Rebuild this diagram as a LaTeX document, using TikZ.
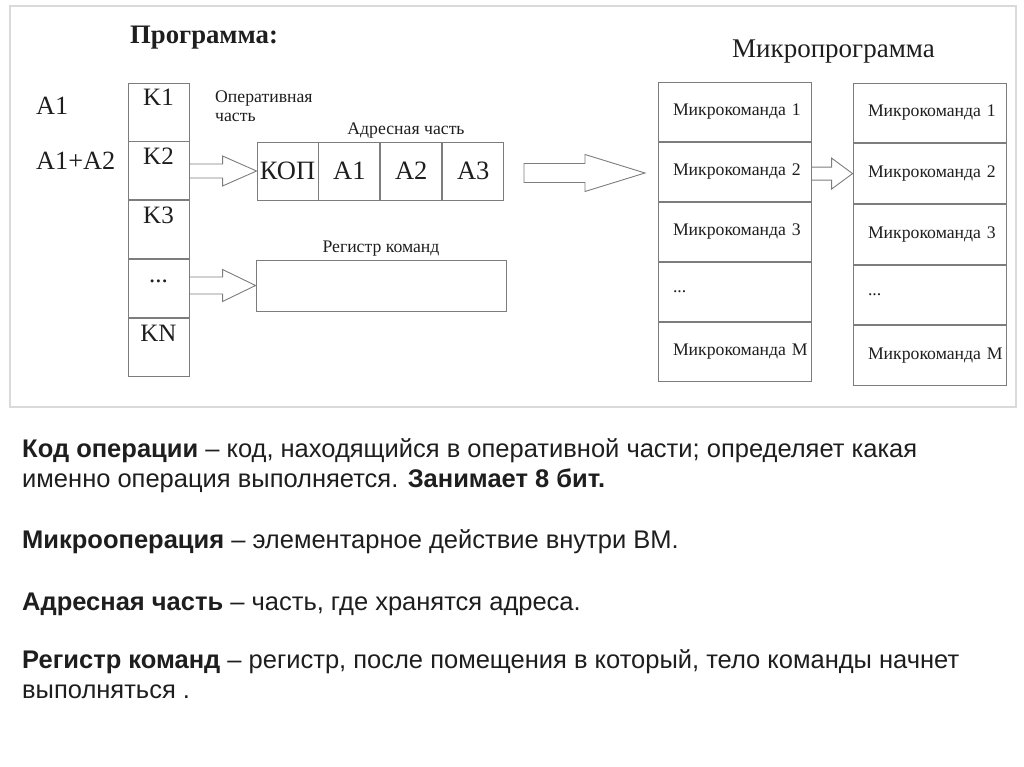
\documentclass[tikz,border=0pt]{standalone}
\usepackage{fontspec}
\setmainfont{Liberation Serif}
\setsansfont{Liberation Sans}
\usetikzlibrary{positioning,calc}
\definecolor{linegray}{RGB}{125,125,125}
\definecolor{framegray}{RGB}{218,218,218}
\definecolor{ink}{RGB}{30,30,30}
% hollow block arrow: tail, tip, shaft half width, head half width, head length, closing
\newcommand{\fatarrow}[6]{%
  \coordinate (fa-tail) at (#1 |- #2);
  \draw[blockarrow] ($(fa-tail)+(0,-#3)$) -- ($(#2)+(-#5,-#3)$) -- ($(#2)+(-#5,-#4)$)
    -- (#2) -- ($(#2)+(-#5,#4)$) -- ($(#2)+(-#5,#3)$) -- ($(fa-tail)+(0,#3)$) #6;}

\begin{document}
\begin{tikzpicture}[x=1pt,y=-1pt,text=ink,
  kcell/.style={draw=linegray,line width=0.9pt,minimum width=61pt,inner sep=0pt,
    text height=23pt,text depth=35pt,font=\fontsize{25}{25}\selectfont},
  regcell/.style={draw=linegray,line width=0.9pt,minimum width=61pt,minimum height=58pt,
    inner sep=0pt,font=\fontsize{26.5}{26.5}\selectfont},
  mcell/.style={draw=linegray,line width=0.9pt,minimum width=153pt,minimum height=#1,
    inner xsep=15pt,inner ysep=0pt,text width=123pt,align=left,
    font=\fontsize{17.7}{17.7}\selectfont},
  note/.style={inner sep=0pt,font=\fontsize{17.7}{19}\selectfont},
  body/.style={anchor=base west,inner sep=0pt,font=\sffamily\fontsize{25.5}{25.5}\selectfont},
  blockarrow/.style={draw=linegray,line width=0.9pt,line join=miter}]
\useasboundingbox (0,0) rectangle (1024,767);
\draw[framegray,line width=1.5pt] (10,6) rectangle (1016,407);

% program column
\node[anchor=base west,inner sep=0pt,font=\bfseries\fontsize{26.7}{26.7}\selectfont] (progtitle) at (130,44) {Программа:};
\node[anchor=base west,inner sep=0pt,font=\fontsize{26.3}{26.3}\selectfont] (opa) at (36,115) {A1};
\node[anchor=base west,inner sep=0pt,font=\fontsize{26.3}{26.3}\selectfont] (opab) at (36,170) {A1+A2};
\node[kcell] (k1) at (158.5,112) {K1};
\node[kcell,below=0pt of k1] (k2) {K2};
\node[kcell,below=0pt of k2] (k3) {K3};
\node[kcell,below=0pt of k3] (kdots) {...};
\node[kcell,below=0pt of kdots] (kn) {KN};

% command format
\node[note,anchor=base west,align=left] (opnote) at (215,122) {Оперативная\\часть};
\node[note,anchor=base] (adrnote) at (406,135) {Адресная часть};
\node[regcell] (kop) at (287.5,171) {КОП};
\node[regcell,right=0pt of kop] (a1) {A1};
\node[regcell,right=0pt of a1] (a2) {A2};
\node[regcell,right=0pt of a2] (a3) {A3};
\node[note,anchor=base] (regnote) at (381,252) {Регистр команд};
\node[draw=linegray,line width=0.9pt,minimum width=250pt,minimum height=51pt,inner sep=0pt] (reg) at (381,285.5) {};

% microprogram
\node[anchor=base west,inner sep=0pt,font=\fontsize{27}{27}\selectfont] (mtitle) at (732,58) {Микропрограмма};
\node[mcell=59.2pt] (m11) at (734.5,111.6) {Микрокоманда~1};
\node[mcell=59.2pt,below=0pt of m11] (m12) {Микрокоманда~2};
\node[mcell=59.2pt,below=0pt of m12] (m13) {Микрокоманда~3};
\node[mcell=59.2pt,below=0pt of m13] (m14) {...};
\node[mcell=59.2pt,below=0pt of m14] (m15) {Микрокоманда~M};
\node[mcell=59.8pt] (m21) at (929.5,112.9) {Микрокоманда~1};
\node[mcell=59.8pt,below=0pt of m21] (m22) {Микрокоманда~2};
\node[mcell=59.8pt,below=0pt of m22] (m23) {Микрокоманда~3};
\node[mcell=59.8pt,below=0pt of m23] (m24) {...};
\node[mcell=59.8pt,below=0pt of m24] (m25) {Микрокоманда~M};

% arrows
\fatarrow{k2.east}{kop.west}{7}{15}{34}{}
\fatarrow{kdots.east}{reg.west}{8.5}{16}{33}{}
\coordinate (bigtail) at (524,173);
\coordinate (bigtip) at (645,173);
\fatarrow{bigtail}{bigtip}{9.5}{18.5}{60}{-- cycle}
\fatarrow{m12.east}{m22.west}{6.5}{15.5}{21}{}

% definitions
\node[body] (def1a) at (22,457) {\textbf{Код операции} – код, находящийся в оперативной части; определяет какая};
\node[body] (def1b) at (22,487) {именно операция выполняется. \textbf{Занимает 8 бит.}};
\node[body] (def2) at (22,548) {\textbf{Микрооперация} – элементарное действие внутри ВМ.};
\node[body] (def3) at (22,610) {\textbf{Адресная часть} – часть, где хранятся адреса.};
\node[body] (def4a) at (22,668) {\textbf{Регистр команд} – регистр, после помещения в который, тело команды начнет};
\node[body] (def4b) at (22,698) {выполняться .};
\end{tikzpicture}
\end{document}
